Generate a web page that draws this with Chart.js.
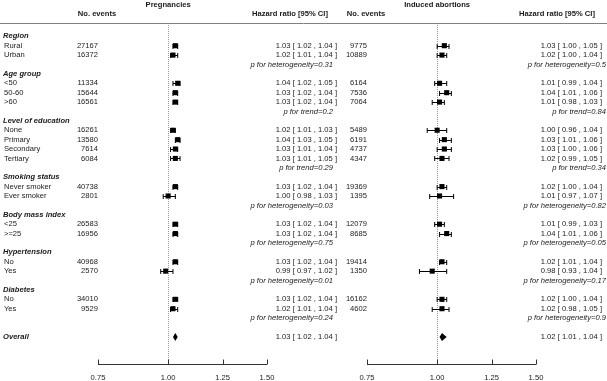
<!DOCTYPE html>
<html>
<head>
<meta charset="utf-8">
<script src="https://cdn.jsdelivr.net/npm/chart.js@4/dist/chart.umd.min.js"></script>
<style>
  html, body { margin: 0; padding: 0; background: #fff; }
  #wrap { width: 607px; height: 381px; position: relative; }
</style>
</head>
<body>
<div id="wrap"><canvas id="forest" width="607" height="381"></canvas></div>
<script>
// groups and their categories (row order top to bottom)
const groups = ['Region', 'Age group', 'Level of education', 'Smoking status', 'Body mass index', 'Hypertension', 'Diabetes'];
const categories = [
    ['Rural', 'Urban'],
    ['<50', '50-60', '>60'],
    ['None', 'Primary', 'Secondary', 'Tertiary'],
    ['Never smoker', 'Ever smoker'],
    ['<25', '>=25'],
    ['No', 'Yes'],
    ['No', 'Yes'],
];

// Pregnancies
const pregEvents = [27167, 16372, 11334, 15644, 16561, 16261, 13580, 7614, 6084, 40738, 2801, 26583, 16956, 40968, 2570, 34010, 9529];
const pregHR = [1.03, 1.02, 1.04, 1.03, 1.03, 1.02, 1.04, 1.03, 1.03, 1.03, 1.00, 1.03, 1.03, 1.03, 0.99, 1.03, 1.02];
const pregLo = [1.02, 1.01, 1.02, 1.02, 1.02, 1.01, 1.03, 1.01, 1.01, 1.02, 0.98, 1.02, 1.02, 1.02, 0.97, 1.02, 1.01];
const pregHi = [1.04, 1.04, 1.05, 1.04, 1.04, 1.03, 1.05, 1.04, 1.05, 1.04, 1.03, 1.04, 1.04, 1.04, 1.02, 1.04, 1.04];
const pregP = ['p for heterogeneity=0.31', 'p for trend=0.2', 'p for trend=0.29', 'p for heterogeneity=0.03',
    'p for heterogeneity=0.75', 'p for heterogeneity=0.01', 'p for heterogeneity=0.24'];
const pregOverall = [1.03, 1.02, 1.04];

// Induced abortions
const abortEvents = [9775, 10889, 6164, 7536, 7064, 5489, 6191, 4737, 4347, 19369, 1395, 12079, 8685, 19414, 1350, 16162, 4602];
const abortHR = [1.03, 1.02, 1.01, 1.04, 1.01, 1.00, 1.03, 1.03, 1.02, 1.02, 1.01, 1.01, 1.04, 1.02, 0.98, 1.02, 1.02];
const abortLo = [1.00, 1.00, 0.99, 1.01, 0.98, 0.96, 1.01, 1.00, 0.99, 1.00, 0.97, 0.99, 1.01, 1.01, 0.93, 1.00, 0.98];
const abortHi = [1.05, 1.04, 1.04, 1.06, 1.03, 1.04, 1.06, 1.06, 1.05, 1.04, 1.07, 1.03, 1.06, 1.04, 1.04, 1.04, 1.05];
const abortP = ['p for heterogeneity=0.5', 'p for trend=0.84', 'p for trend=0.34', 'p for heterogeneity=0.82',
    'p for heterogeneity=0.05', 'p for heterogeneity=0.17', 'p for heterogeneity=0.9'];
const abortOverall = [1.02, 1.01, 1.04];

const tickValues = [0.75, 1.00, 1.25, 1.50];
const tickLabels = ['0.75', '1.00', '1.25', '1.50'];

// build row index for each item
const headerRows = [];
const catRows = [];
const catNames = [];
const pRows = [];
let r = 0;
groups.forEach((g, gi) => {
    headerRows.push(r++);
    categories[gi].forEach(c => { catRows.push(r++); catNames.push(c); });
    pRows.push(r++);
});
const overallRow = r + 1;

const FONT = '"Liberation Sans", Arial, sans-serif';
const TXT = '#1a1a1a';
const hrText = (v, lo, hi) => v.toFixed(2) + ' [ ' + lo.toFixed(2) + ' , ' + hi.toFixed(2) + ' ]';

// pixel spans of the two panels along x
const panels = {
    x1: { left: 98, right: 267 },
    x2: { left: 367, right: 536 },
};

const forestPlugin = {
    id: 'forest',
    afterLayout(chart) {
        Object.keys(panels).forEach(id => {
            const s = chart.scales[id];
            s.left = panels[id].left;
            s.right = panels[id].right;
            s.width = s.right - s.left;
            s.configure();
        });
    },
    beforeDatasetsDraw(chart) {
        const ctx = chart.ctx;
        const y = chart.scales.y;
        const panelDefs = [
            { x: chart.scales.x1, events: pregEvents, hr: pregHR, lo: pregLo, hi: pregHi, p: pregP, overall: pregOverall,
              title: 'Pregnancies', evX: 98, hrX: 337, pX: 333, evHead: 97, hrHead: 290 },
            { x: chart.scales.x2, events: abortEvents, hr: abortHR, lo: abortLo, hi: abortHi, p: abortP, overall: abortOverall,
              title: 'Induced abortions', evX: 367, hrX: 602, pX: 606, evHead: 366, hrHead: 557 },
        ];
        ctx.save();

        // header rule
        ctx.strokeStyle = '#808080';
        ctx.lineWidth = 1;
        ctx.beginPath();
        ctx.moveTo(0, 23.5);
        ctx.lineTo(607, 23.5);
        ctx.stroke();

        ctx.textBaseline = 'middle';
        ctx.fillStyle = TXT;

        // group labels + categories
        ctx.font = 'italic bold 7.6px ' + FONT;
        ctx.textAlign = 'left';
        groups.forEach((g, i) => ctx.fillText(g, 3, y.getPixelForValue(headerRows[i])));
        ctx.fillText('Overall', 3, y.getPixelForValue(overallRow));
        ctx.font = '7.6px ' + FONT;
        catNames.forEach((c, i) => ctx.fillText(c, 4, y.getPixelForValue(catRows[i])));

        panelDefs.forEach(pd => {
            const xs = pd.x;
            const x1 = xs.getPixelForValue(1);
            const axisY = 364.5;

            // headers
            ctx.fillStyle = TXT;
            ctx.font = 'bold 7.6px ' + FONT;
            ctx.textAlign = 'center';
            ctx.fillText(pd.title, x1, 5);
            ctx.fillText('No. events', pd.evHead, 14);
            ctx.fillText('Hazard ratio [95% CI]', pd.hrHead, 14);

            // reference line
            ctx.strokeStyle = '#999';
            ctx.lineWidth = 1;
            ctx.setLineDash([1, 1]);
            ctx.beginPath();
            ctx.moveTo(Math.round(x1) + 0.5, 25);
            ctx.lineTo(Math.round(x1) + 0.5, axisY);
            ctx.stroke();
            ctx.setLineDash([]);

            // row texts
            ctx.font = '7.6px ' + FONT;
            ctx.textAlign = 'right';
            catRows.forEach((row, i) => {
                const py = y.getPixelForValue(row);
                ctx.fillText(String(pd.events[i]), pd.evX, py);
                ctx.fillText(hrText(pd.hr[i], pd.lo[i], pd.hi[i]), pd.hrX, py);
            });
            ctx.fillText(hrText(pd.overall[0], pd.overall[1], pd.overall[2]), pd.hrX, y.getPixelForValue(overallRow));
            ctx.font = 'italic 7.6px ' + FONT;
            pRows.forEach((row, i) => ctx.fillText(pd.p[i], pd.pX, y.getPixelForValue(row)));

            // whiskers
            ctx.strokeStyle = '#000';
            ctx.lineWidth = 1;
            catRows.forEach((row, i) => {
                const py = Math.round(y.getPixelForValue(row)) + 0.5;
                const a = xs.getPixelForValue(pd.lo[i]);
                const b = xs.getPixelForValue(pd.hi[i]);
                ctx.beginPath();
                ctx.moveTo(a, py); ctx.lineTo(b, py);
                ctx.moveTo(a, py - 2.5); ctx.lineTo(a, py + 2.5);
                ctx.moveTo(b, py - 2.5); ctx.lineTo(b, py + 2.5);
                ctx.stroke();
            });

            // overall diamond
            const oy = y.getPixelForValue(overallRow);
            ctx.fillStyle = '#000';
            ctx.beginPath();
            ctx.moveTo(xs.getPixelForValue(pd.overall[1]), oy);
            ctx.lineTo(xs.getPixelForValue(pd.overall[0]), oy - 4);
            ctx.lineTo(xs.getPixelForValue(pd.overall[2]), oy);
            ctx.lineTo(xs.getPixelForValue(pd.overall[0]), oy + 4);
            ctx.closePath();
            ctx.fill();

            // axis
            ctx.strokeStyle = '#333';
            ctx.beginPath();
            ctx.moveTo(xs.getPixelForValue(tickValues[0]), axisY);
            ctx.lineTo(xs.getPixelForValue(tickValues[tickValues.length - 1]), axisY);
            tickValues.forEach(t => {
                const tx = Math.round(xs.getPixelForValue(t)) + 0.5;
                ctx.moveTo(tx, axisY - 5);
                ctx.lineTo(tx, axisY);
            });
            ctx.stroke();
            ctx.fillStyle = TXT;
            ctx.font = '7.6px ' + FONT;
            ctx.textAlign = 'center';
            tickValues.forEach((t, i) => ctx.fillText(tickLabels[i], xs.getPixelForValue(t), 378));
        });
        ctx.restore();
    },
};

const squareRadius = 3.6;

new Chart(document.getElementById('forest'), {
    type: 'scatter',
    data: {
        datasets: [
            {
                label: 'Pregnancies',
                xAxisID: 'x1',
                data: pregHR.map((v, i) => ({ x: v, y: catRows[i] })),
                pointStyle: 'rect',
                pointRadius: squareRadius,
                backgroundColor: '#000',
                borderWidth: 0,
            },
            {
                label: 'Induced abortions',
                xAxisID: 'x2',
                data: abortHR.map((v, i) => ({ x: v, y: catRows[i] })),
                pointStyle: 'rect',
                pointRadius: squareRadius,
                backgroundColor: '#000',
                borderWidth: 0,
            },
        ],
    },
    options: {
        responsive: false,
        animation: false,
        layout: { padding: 0 },
        plugins: { legend: { display: false }, tooltip: { enabled: false } },
        scales: {
            x1: { type: 'logarithmic', position: 'bottom', min: 0.75, max: 1.5, display: false },
            x2: { type: 'logarithmic', position: 'bottom', min: 0.75, max: 1.5, display: false },
            y: { type: 'linear', min: -3.44, max: 36.27, reverse: true, display: false },
        },
    },
    plugins: [forestPlugin],
});
</script>
</body>
</html>
